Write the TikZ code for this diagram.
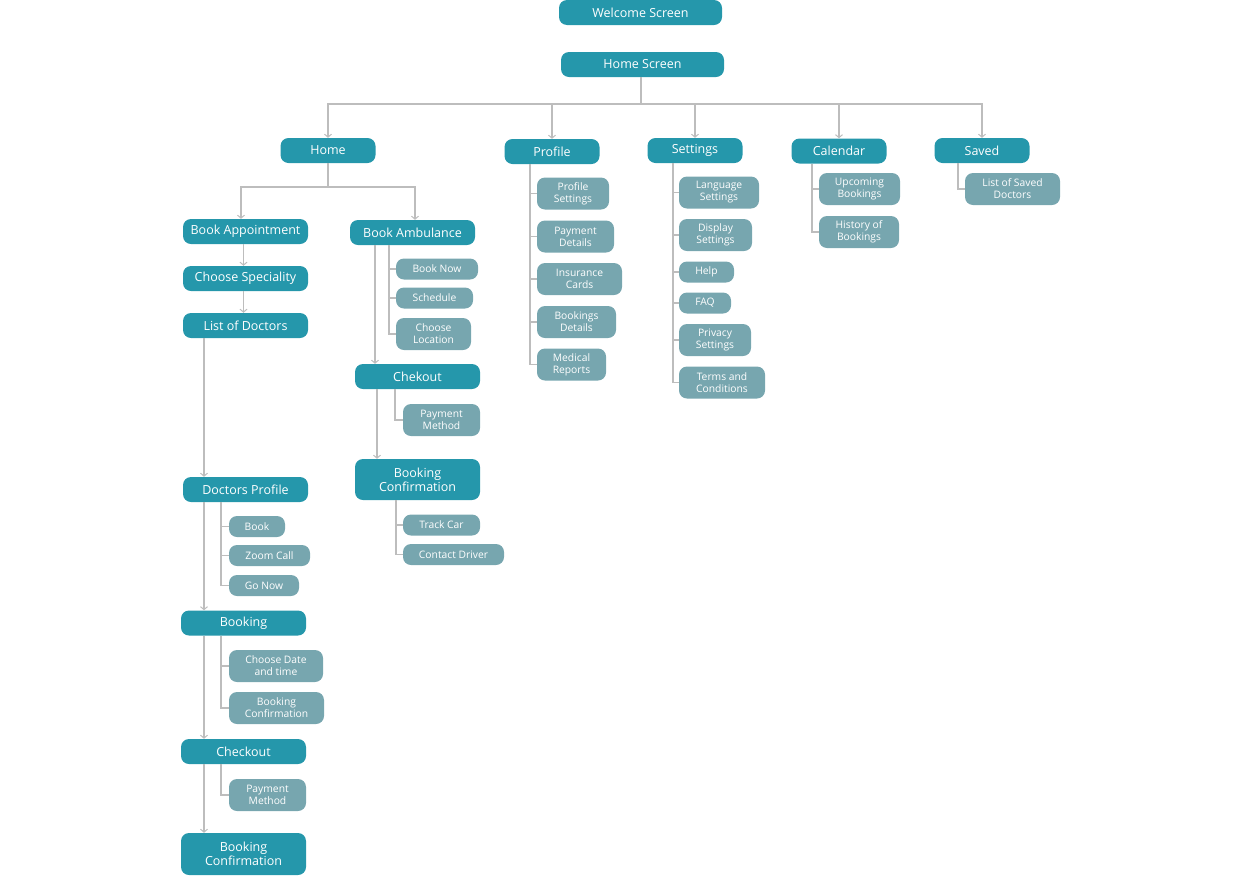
\documentclass[tikz,border=0pt]{standalone}
\usepackage{fontspec}
\setmainfont{Open Sans}
\usepackage{tikz}
\usetikzlibrary{arrows.meta,positioning}
\definecolor{Turquesa}{HTML}{2597AB}
\definecolor{Pizarra}{HTML}{77A6AF}
\definecolor{Linea}{HTML}{BDBDBD}

\begin{document}
\begin{tikzpicture}[
  x=1pt,y=-1pt,
  mainbox/.style={fill=Turquesa,text=white,rounded corners=8pt,inner sep=0pt,
    minimum height=25pt,minimum width=125pt,align=center,
    font=\fontsize{12.5}{14}\selectfont},
  subbox/.style={fill=Pizarra,text=white,rounded corners=8pt,inner sep=0pt,
    minimum height=21pt,align=center,font=\fontsize{10.3}{12}\selectfont},
  tall/.style={minimum height=32pt},
  link/.style={draw=Linea,line width=1.2pt},
  flow/.style={link,-{Straight Barb[length=3pt,width=7pt,line width=1pt]}}
]
  \useasboundingbox (0,0) rectangle (1241,876);

  % Nivel superior
  \node[mainbox,minimum width=163pt] (ws) at (640.5,12.5) {Welcome Screen};
  \node[mainbox,minimum width=163pt] (hs) at (642.5,64.5) {Home Screen};
  \coordinate (bus) at (0,104);

  \node[mainbox,minimum width=95pt] (home) at (328,150.5) {Home};
  \node[mainbox,minimum width=95pt] (prof) at (552,151.5) {Profile};
  \node[mainbox,minimum width=95pt] (sett) at (695,150.5) {Settings};
  \node[mainbox,minimum width=95pt] (cal)  at (839,151)   {Calendar};
  \node[mainbox,minimum width=95pt] (sav)  at (982,150.5) {Saved};

  \foreach \n in {home,prof,sett,cal,sav}
    \draw[flow] ([xshift=-1.5pt]hs.south) -- ([xshift=-1.5pt]hs.south |- bus) -| (\n.north);

  % Rama Home
  \coordinate (busB) at (0,187);
  \node[mainbox] (bapp) at (245.5,231.5) {Book Appointment};
  \node[mainbox] (bamb) at (412.5,232.5) {Book Ambulance};
  \draw[flow] (home.south) -- (home.south |- busB) -| ([xshift=-4.5pt]bapp.north);
  \draw[flow] (home.south) -- (home.south |- busB) -| ([xshift=2.5pt]bamb.north);

  \node[mainbox] (spec) at (245.5,278.5) {Choose Speciality};
  \node[mainbox] (ldoc) at (245.5,325.5) {List of Doctors};
  \draw[flow] ([xshift=-2pt]bapp.south) -- ([xshift=-2pt]spec.north);
  \draw[flow] ([xshift=-2pt]spec.south) -- ([xshift=-2pt]ldoc.north);

  \coordinate (ejeA) at (204,0);
  \node[mainbox] (dprof) at (245.5,489.5) {Doctors Profile};
  \node[mainbox] (bkg)   at (243.5,623)   {Booking};
  \node[mainbox] (chk)   at (243.5,751.5) {Checkout};
  \node[mainbox,minimum height=42pt] (bconf) at (243.5,854) {Booking\\Confirmation};
  \draw[flow] (ldoc.south -| ejeA) -- (dprof.north -| ejeA);
  \draw[flow] (dprof.south -| ejeA) -- (bkg.north -| ejeA);
  \draw[flow] (bkg.south -| ejeA) -- (chk.north -| ejeA);
  \draw[flow] (chk.south -| ejeA) -- (bconf.north -| ejeA);

  \coordinate (subA) at (221,0);
  \node[subbox,minimum width=56pt] (book)  at (257,526.5)   {Book};
  \node[subbox,minimum width=81pt] (zoom)  at (269.5,555.5) {Zoom Call};
  \node[subbox,minimum width=70pt] (gonow) at (264,585.5)   {Go Now};
  \foreach \n in {book,zoom,gonow}
    \draw[link] (dprof.south -| subA) |- (\n.west);

  \node[subbox,tall,minimum width=94pt] (date)  at (276,666)   {Choose Date\\and time};
  \node[subbox,tall,minimum width=95pt] (bcsub) at (276.5,708) {Booking\\Confirmation};
  \foreach \n in {date,bcsub}
    \draw[link] (bkg.south -| subA) |- (\n.west);

  \node[subbox,tall,minimum width=77pt] (paya) at (267.5,795) {Payment\\Method};
  \draw[link] (chk.south -| subA) |- (paya.west);

  % Rama ambulancia
  \node[subbox,minimum width=82pt] (bnow)  at (437,269)   {Book Now};
  \node[subbox,minimum width=77pt] (sched) at (434.5,298) {Schedule};
  \node[subbox,tall,minimum width=75pt] (cloc) at (433.5,334) {Choose\\Location};
  \foreach \n in {bnow,sched,cloc}
    \draw[link] ([xshift=-23.5pt]bamb.south) |- (\n.west);

  \coordinate (ejeB) at (375,0);
  \coordinate (ejeC) at (377,0);
  \node[mainbox] (chkb) at (417.5,376.5) {Chekout};
  \node[mainbox,minimum height=41pt] (bconfb) at (417.5,479.5) {Booking\\Confirmation};
  \draw[flow] (bamb.south -| ejeB) -- (chkb.north -| ejeB);
  \draw[flow] (chkb.south -| ejeC) -- (bconfb.north -| ejeC);

  \node[subbox,tall,minimum width=77pt] (payb) at (441.5,420) {Payment\\Method};
  \draw[link] ([xshift=-22.5pt]chkb.south) |- (payb.west);

  \node[subbox,minimum width=77pt]  (track) at (441.5,525)   {Track Car};
  \node[subbox,minimum width=101pt] (drv)   at (453.5,554.5) {Contact Driver};
  \foreach \n in {track,drv}
    \draw[link] ([xshift=-21.5pt]bconfb.south) |- (\n.west);

  % Rama Profile
  \node[subbox,tall,minimum width=72pt] (psett) at (573,193.5)   {Profile\\Settings};
  \node[subbox,tall,minimum width=77pt] (pdet)  at (575.5,236.5) {Payment\\Details};
  \node[subbox,tall,minimum width=85pt] (ins)   at (579.5,279)   {Insurance\\Cards};
  \node[subbox,tall,minimum width=79pt] (bdet)  at (576.5,322)   {Bookings\\Details};
  \node[subbox,tall,minimum width=69pt] (med)   at (571.5,364.5) {Medical\\Reports};
  \foreach \n in {psett,pdet,ins,bdet,med}
    \draw[link] ([xshift=-22pt]prof.south) |- (\n.west);

  % Rama Settings
  \node[subbox,tall,minimum width=80pt] (lang) at (719,192.5)   {Language\\Settings};
  \node[subbox,tall,minimum width=73pt] (disp) at (715.5,235)   {Display\\Settings};
  \node[subbox,minimum width=55pt]      (help) at (706.5,272)   {Help};
  \node[subbox,minimum width=52pt]      (faq)  at (705,303)     {FAQ};
  \node[subbox,tall,minimum width=72pt] (priv) at (715,340)     {Privacy\\Settings};
  \node[subbox,tall,minimum width=86pt] (terms) at (722,382.5)  {Terms and\\Conditions};
  \foreach \n in {lang,disp,help,faq,priv,terms}
    \draw[link] ([xshift=-22pt]sett.south) |- (\n.west);

  % Rama Calendar
  \node[subbox,tall,minimum width=81pt] (upc)  at (859.5,189) {Upcoming\\Bookings};
  \node[subbox,tall,minimum width=80pt] (hist) at (859,232)   {History of\\Bookings};
  \foreach \n in {upc,hist}
    \draw[link] ([xshift=-27pt]cal.south) |- (\n.west);

  % Rama Saved
  \node[subbox,tall,minimum width=95pt] (lsd) at (1012.5,189) {List of Saved\\Doctors};
  \draw[link] ([xshift=-24pt]sav.south) |- (lsd.west);
\end{tikzpicture}
\end{document}
